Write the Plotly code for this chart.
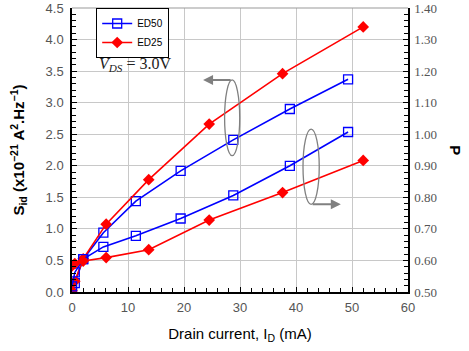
import plotly.graph_objects as go

# Drain current (mA)
id_ed50 = [0.0, 0.5, 2.0, 5.6, 11.4, 19.4, 28.8, 38.9, 49.3]
id_ed25 = [0.0, 0.5, 2.0, 6.1, 13.7, 24.5, 37.6, 52.0]

# Sid (x1e-21 A^2/Hz)
sid_ed50 = [0.03, 0.14, 0.52, 0.94, 1.44, 1.92, 2.41, 2.90, 3.37]
sid_ed25 = [0.02, 0.17, 0.525, 1.075, 1.78, 2.66, 3.46, 4.20]

# P factor
p_ed50 = [0.518, 0.562, 0.604, 0.643, 0.678, 0.733, 0.806, 0.900, 1.007]
p_ed25 = [0.583, 0.590, 0.598, 0.609, 0.634, 0.728, 0.815, 0.917]

# axis ticks
x_ticks = [0, 10, 20, 30, 40, 50, 60]
y_ticks = [0.0, 0.5, 1.0, 1.5, 2.0, 2.5, 3.0, 3.5, 4.0, 4.5]
y2_ticks = [0.5, 0.6, 0.7, 0.8, 0.9, 1.0, 1.1, 1.2, 1.3, 1.4]

BLUE = "#0000ff"
RED = "#ff0000"
GRAY = "#808080"

fig = go.Figure()

sq = dict(symbol="square-open", size=9, color=BLUE, line=dict(width=1.3, color=BLUE))
dm = dict(symbol="diamond", size=9, color=RED)

fig.add_trace(go.Scatter(x=id_ed50, y=sid_ed50, mode="lines+markers", name="ED50",
                         line=dict(color=BLUE, width=1.6), marker=sq))
fig.add_trace(go.Scatter(x=id_ed25, y=sid_ed25, mode="lines+markers", name="ED25",
                         line=dict(color=RED, width=1.6), marker=dm))
fig.add_trace(go.Scatter(x=id_ed50, y=p_ed50, mode="lines+markers", name="ED50 P",
                         line=dict(color=BLUE, width=1.6), marker=sq, yaxis="y2",
                         showlegend=False))
fig.add_trace(go.Scatter(x=id_ed25, y=p_ed25, mode="lines+markers", name="ED25 P",
                         line=dict(color=RED, width=1.6), marker=dm, yaxis="y2",
                         showlegend=False))

# ellipses
fig.add_shape(type="circle", xref="x", yref="y", x0=27.25, x1=29.95, y0=2.16, y1=3.36,
              line=dict(color=GRAY, width=1.3))
fig.add_shape(type="circle", xref="x", yref="y", x0=41.25, x1=44.15, y0=1.39, y1=2.58,
              line=dict(color=GRAY, width=1.3))

# arrows
fig.add_annotation(x=23.4, y=3.36, ax=28.6, ay=3.36, xref="x", yref="y", axref="x", ayref="y",
                   text="", showarrow=True, arrowhead=2, arrowsize=1, arrowwidth=2, arrowcolor=GRAY)
fig.add_annotation(x=48.0, y=1.39, ax=42.7, ay=1.39, xref="x", yref="y", axref="x", ayref="y",
                   text="", showarrow=True, arrowhead=2, arrowsize=1, arrowwidth=2, arrowcolor=GRAY)

# V_DS annotation
fig.add_annotation(x=0.074, y=0.80, xref="paper", yref="paper", xanchor="left", yanchor="middle",
                   text="<i>V<sub>DS</sub></i> = 3.0V", showarrow=False,
                   font=dict(family="Liberation Serif, Times New Roman, serif", size=16, color="#222"))

# right axis title (rotated clockwise)
fig.add_annotation(x=1.173, y=0.5, xref="paper", yref="paper", text="<b>P</b>", showarrow=False,
                   textangle=90, font=dict(family="Liberation Sans, Arial", size=15, color="black"))

tickfont = dict(family="Liberation Sans, Arial", size=13, color="#555")

fig.update_layout(
    width=469, height=351,
    margin=dict(l=72, r=61, t=8, b=59, autoexpand=False),
    paper_bgcolor="white", plot_bgcolor="white",
    font=dict(family="Liberation Sans, Arial"),
    xaxis=dict(range=[0, 60], tickvals=x_ticks, showgrid=True, gridcolor="#c8c8c8", gridwidth=1,
               zeroline=False, showline=True, linecolor="black", linewidth=1.5, mirror=False,
               ticks="inside", ticklen=5, tickcolor="black", tickfont=tickfont, ticklabelstandoff=3,
               ticklabeloverflow="allow",
               minor=dict(dtick=2, ticks="inside", ticklen=4, tickcolor="black", showgrid=False),
               title=dict(text="Drain current, I<sub>D</sub> (mA)",
                          font=dict(size=15, color="black"), standoff=14)),
    yaxis=dict(range=[0, 4.5], tickvals=y_ticks, tickformat=".1f", showgrid=True, gridcolor="#c8c8c8",
               gridwidth=1, zeroline=False, showline=True, linecolor="black", linewidth=1.5,
               ticks="inside", ticklen=5, tickcolor="black", tickfont=tickfont, ticklabelstandoff=4,
               ticklabeloverflow="allow",
               minor=dict(dtick=0.1, ticks="inside", ticklen=4, tickcolor="black", showgrid=False),
               title=dict(text="<b>S<sub>id</sub> (x10<sup>−21</sup> A<sup>2</sup>.Hz<sup>−1</sup>)</b>",
                          font=dict(size=15, color="black"), standoff=17)),
    yaxis2=dict(range=[0.5, 1.4], tickvals=y2_ticks, tickformat=".2f", overlaying="y", side="right",
                showgrid=False, zeroline=False, showline=True, linecolor="black", linewidth=1.5,
                ticks="inside", ticklen=5, tickcolor="black", ticklabelstandoff=2,
                ticklabeloverflow="allow",
                tickfont=dict(family="Liberation Serif, Times New Roman, serif", size=13, color="#555"),
                minor=dict(dtick=0.02, ticks="inside", ticklen=4, tickcolor="black")),
    legend=dict(x=0.072, y=1.0, xanchor="left", yanchor="top", bgcolor="white",
                bordercolor="black", borderwidth=1, font=dict(size=10, color="black"),
                tracegroupgap=0, itemwidth=30),
    showlegend=True,
)

# top border (thin gray)
fig.add_shape(type="line", xref="paper", yref="paper", x0=0, x1=1, y0=1, y1=1,
              line=dict(color="#999", width=1))

fig.write_html("out.html", post_script="document.body.style.margin='0';",
               config={"displayModeBar": False})
